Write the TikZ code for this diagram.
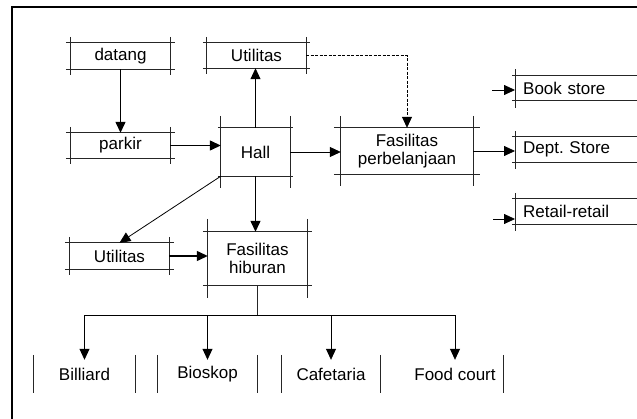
\documentclass[tikz,border=0pt]{standalone}
\usepackage{fontspec}
\setmainfont{Liberation Sans}
\usetikzlibrary{arrows.meta}
\tikzstyle{every node}=[font=\fontsize{17}{17.5}\selectfont,align=center,inner sep=0pt]
\tikzstyle{garis}=[draw=black!85,line width=0.8pt]
\tikzstyle{panah}=[draw=black,line width=1.3pt,-{Triangle[length=11pt,width=10pt]}]
\tikzstyle{panahtipis}=[draw=black,line width=0.8pt,-{Triangle[length=11pt,width=10pt]}]
\tikzset{
  kotak/.style 2 args={append after command={
    ([xshift=-#1]\tikzlastnode.north west) edge[garis] ([xshift=#1]\tikzlastnode.north east)
    ([xshift=-#1]\tikzlastnode.south west) edge[garis] ([xshift=#1]\tikzlastnode.south east)
    ([yshift=#2]\tikzlastnode.north west) edge[garis] ([yshift=-#2]\tikzlastnode.south west)
    ([yshift=#2]\tikzlastnode.north east) edge[garis] ([yshift=-#2]\tikzlastnode.south east)}},
  kotakkanan/.style={anchor=west,minimum height=25pt,text width=114pt,inner xsep=8pt,align=left,
    append after command={
    ([xshift=-3pt]\tikzlastnode.north west) edge[garis] (\tikzlastnode.north east)
    ([xshift=-3pt]\tikzlastnode.south west) edge[garis] (\tikzlastnode.south east)
    ([yshift=6pt]\tikzlastnode.north west) edge[garis] ([yshift=-7pt]\tikzlastnode.south west)}},
  tepi/.style={minimum height=28pt,append after command={
    ([yshift=5pt]\tikzlastnode.north west) edge[garis] ([yshift=-5pt]\tikzlastnode.south west)
    ([yshift=5pt]\tikzlastnode.north east) edge[garis] ([yshift=-5pt]\tikzlastnode.south east)}},
  tepikanan/.style={minimum height=28pt,append after command={
    ([yshift=5pt]\tikzlastnode.north east) edge[garis] ([yshift=-5pt]\tikzlastnode.south east)}}
}

\begin{document}
\begin{tikzpicture}[x=1pt,y=-1pt]
  \useasboundingbox (0,0) rectangle (637,419);
  \draw[line width=1.4pt] (12,419) -- (12,7) -- (637,7);

  % alur masuk
  \node[kotak={5pt}{6pt},minimum width=99pt,minimum height=26pt] (datang) at (120.5,56) {datang};
  \node[kotak={5pt}{6pt},minimum width=99pt,minimum height=25pt] (parkir) at (120.5,145.5) {parkir};
  \node[kotak={4pt}{6pt},minimum width=99pt,minimum height=25pt] (utilA) at (256.5,55.5) {Utilitas};
  \node[kotak={3pt}{12pt},minimum width=69pt,minimum height=48pt] (hall) at (255.5,152) {Hall};
  \node[kotak={7pt}{12pt},minimum width=132pt,minimum height=46pt] (belanja) at (407,151) {Fasilitas\\perbelanjaan};
  \node[kotak={5pt}{6pt},minimum width=99pt,minimum height=26pt] (utilB) at (119.5,256) {Utilitas};
  \node[kotak={5pt}{13pt},minimum width=99pt,minimum height=53pt] (hiburan) at (257.5,258.5) {Fasilitas\\hiburan};

  % toko
  \node[kotakkanan] (buku) at (515,88) {Book store};
  \node[kotakkanan] (dept) at (515,149.5) {Dept.\ Store};
  \node[kotakkanan] (retail) at (515,211.5) {Retail-retail};
  \coordinate (keBuku) at (492,90);
  \coordinate (keRetail) at (493,219);

  % hiburan
  \node[tepi,minimum width=101pt] (billiard) at (84.5,374) {Billiard};
  \node[tepi,minimum width=99pt] (bioskop) at (207.5,374) {Bioskop};
  \node[tepi,minimum width=98pt] (cafetaria) at (331,374) {Cafetaria};
  \node[tepikanan,minimum width=96pt] (foodcourt) at (455,374) {Food court};
  \coordinate (cabang) at (hiburan.south |- 0,315);

  \draw[panah] (datang) -- (parkir);
  \draw[panah] (parkir.east) -- (parkir.east -| hall.west);
  \draw[panahtipis] (hall.north) -- (hall.north |- utilA.south);
  \draw[panahtipis,dash pattern=on 3pt off 1.5pt] (utilA.east) -| (belanja.north);
  \draw[panahtipis] (hall.east) -- (hall.east -| belanja.west);
  \draw[panahtipis] (hall.south west) -- (utilB.north);
  \draw[panah] (hall.south) -- (hall.south |- hiburan.north);
  \draw[panah] (utilB.east) -- (utilB.east -| hiburan.west);
  \draw[panahtipis] (belanja.east) -- (belanja.east -| dept.west);
  \draw[panahtipis] (keBuku) -- (keBuku -| buku.west);
  \draw[panahtipis] (keRetail) -- (keRetail -| retail.west);
  \draw[garis] (hiburan.south) -- (cabang);
  \foreach \n in {billiard,bioskop,cafetaria,foodcourt}
    \draw[panahtipis] (cabang) -| (\n.north);
\end{tikzpicture}
\end{document}
